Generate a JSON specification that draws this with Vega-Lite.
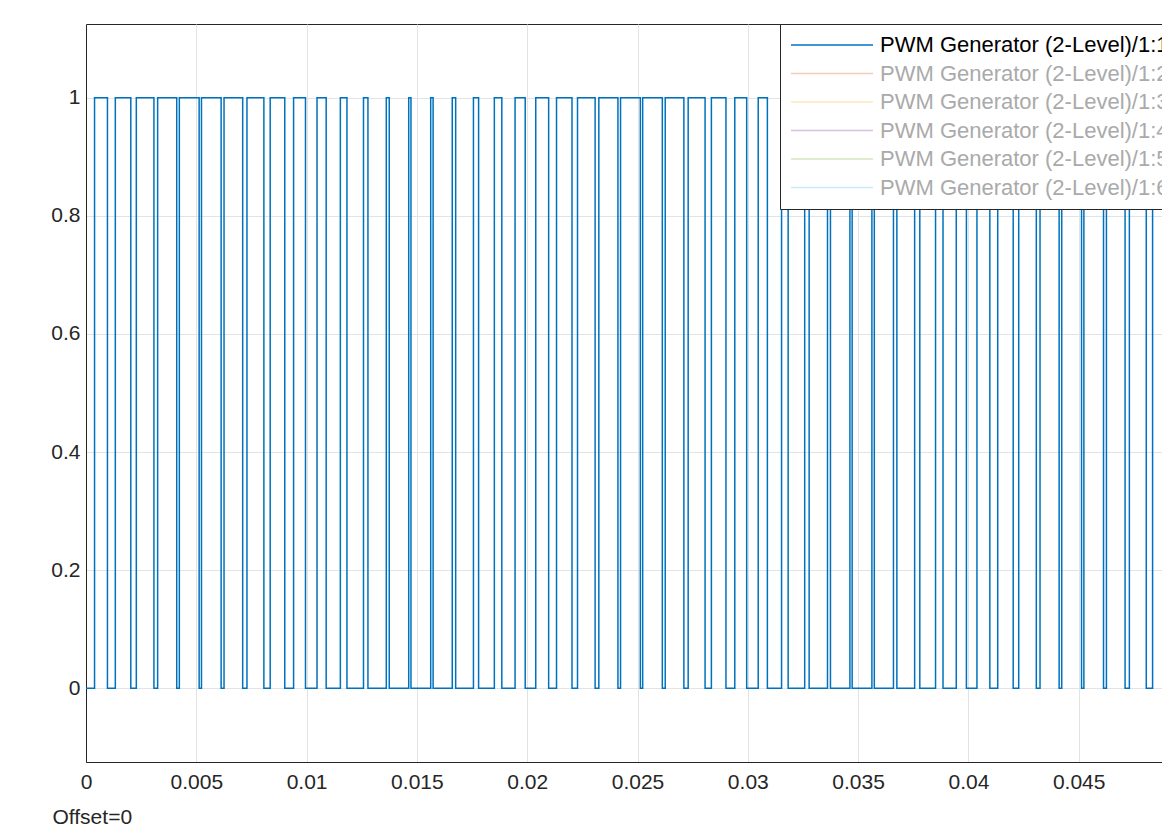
{
  "$schema": "https://vega.github.io/schema/vega-lite/v6.json",
  "autosize": {"type": "none"},
  "width": 1103,
  "height": 738,
  "padding": {"left": 86, "top": 24, "right": 10, "bottom": 62},
  "background": "white",
  "config": {
    "view": {"stroke": "#262626", "strokeWidth": 1},
    "font": "Liberation Sans",
    "axis": {"labelFont": "Liberation Sans", "labelFontSize": 21, "labelColor": "#262626", "gridColor": "#e3e3e3", "gridWidth": 1, "domainColor": "#262626", "ticks": false}
  },
  "data": {"values": [
    {"t": 0, "v": 0},
    {"t": 0.0003876, "v": 1}, {"t": 0.0009724, "v": 0},
    {"t": 0.0013293, "v": 1}, {"t": 0.0020307, "v": 0},
    {"t": 0.0022808, "v": 1}, {"t": 0.0030792, "v": 0},
    {"t": 0.0032470, "v": 1}, {"t": 0.0041130, "v": 0},
    {"t": 0.0042310, "v": 1}, {"t": 0.0051290, "v": 0},
    {"t": 0.0052346, "v": 1}, {"t": 0.0061254, "v": 0},
    {"t": 0.0062572, "v": 1}, {"t": 0.0071028, "v": 0},
    {"t": 0.0072968, "v": 1}, {"t": 0.0080632, "v": 0},
    {"t": 0.0083494, "v": 1}, {"t": 0.0090106, "v": 0},
    {"t": 0.0094099, "v": 1}, {"t": 0.0099501, "v": 0},
    {"t": 0.0104724, "v": 1}, {"t": 0.0108876, "v": 0},
    {"t": 0.0115307, "v": 1}, {"t": 0.0118293, "v": 0},
    {"t": 0.0125792, "v": 1}, {"t": 0.0127808, "v": 0},
    {"t": 0.0136130, "v": 1}, {"t": 0.0137470, "v": 0},
    {"t": 0.0146290, "v": 1}, {"t": 0.0147310, "v": 0},
    {"t": 0.0156254, "v": 1}, {"t": 0.0157346, "v": 0},
    {"t": 0.0166028, "v": 1}, {"t": 0.0167572, "v": 0},
    {"t": 0.0175632, "v": 1}, {"t": 0.0177968, "v": 0},
    {"t": 0.0185106, "v": 1}, {"t": 0.0188494, "v": 0},
    {"t": 0.0194501, "v": 1}, {"t": 0.0199099, "v": 0},
    {"t": 0.0203876, "v": 1}, {"t": 0.0209724, "v": 0},
    {"t": 0.0213293, "v": 1}, {"t": 0.0220307, "v": 0},
    {"t": 0.0222808, "v": 1}, {"t": 0.0230792, "v": 0},
    {"t": 0.0232470, "v": 1}, {"t": 0.0241130, "v": 0},
    {"t": 0.0242310, "v": 1}, {"t": 0.0251290, "v": 0},
    {"t": 0.0252346, "v": 1}, {"t": 0.0261254, "v": 0},
    {"t": 0.0262572, "v": 1}, {"t": 0.0271028, "v": 0},
    {"t": 0.0272968, "v": 1}, {"t": 0.0280632, "v": 0},
    {"t": 0.0283494, "v": 1}, {"t": 0.0290106, "v": 0},
    {"t": 0.0294099, "v": 1}, {"t": 0.0299501, "v": 0},
    {"t": 0.0304724, "v": 1}, {"t": 0.0308876, "v": 0},
    {"t": 0.0315307, "v": 1}, {"t": 0.0318293, "v": 0},
    {"t": 0.0325792, "v": 1}, {"t": 0.0327808, "v": 0},
    {"t": 0.0336130, "v": 1}, {"t": 0.0337470, "v": 0},
    {"t": 0.0346290, "v": 1}, {"t": 0.0347310, "v": 0},
    {"t": 0.0356254, "v": 1}, {"t": 0.0357346, "v": 0},
    {"t": 0.0366028, "v": 1}, {"t": 0.0367572, "v": 0},
    {"t": 0.0375632, "v": 1}, {"t": 0.0377968, "v": 0},
    {"t": 0.0385106, "v": 1}, {"t": 0.0388494, "v": 0},
    {"t": 0.0394501, "v": 1}, {"t": 0.0399099, "v": 0},
    {"t": 0.0403876, "v": 1}, {"t": 0.0409724, "v": 0},
    {"t": 0.0413293, "v": 1}, {"t": 0.0420307, "v": 0},
    {"t": 0.0422808, "v": 1}, {"t": 0.0430792, "v": 0},
    {"t": 0.0432470, "v": 1}, {"t": 0.0441130, "v": 0},
    {"t": 0.0442310, "v": 1}, {"t": 0.0451290, "v": 0},
    {"t": 0.0452346, "v": 1}, {"t": 0.0461254, "v": 0},
    {"t": 0.0462572, "v": 1}, {"t": 0.0471028, "v": 0},
    {"t": 0.0472968, "v": 1}, {"t": 0.0480632, "v": 0},
    {"t": 0.0483494, "v": 1}, {"t": 0.0490106, "v": 0},
    {"t": 0.0494099, "v": 1}, {"t": 0.0499501, "v": 0},
    {"t": 0.05, "v": 0}
  ]},
  "mark": {"type": "line", "interpolate": "step-after", "strokeWidth": 1.5, "clip": true},
  "encoding": {
    "x": {"field": "t", "type": "quantitative", "scale": {"domain": [0, 0.05], "nice": false, "zero": false},
      "axis": {"values": [0, 0.005, 0.01, 0.015, 0.02, 0.025, 0.03, 0.035, 0.04, 0.045, 0.05], "format": "~g", "labelPadding": 9, "title": "Offset=0", "titleFont": "Liberation Sans", "titleFontSize": 21, "titleFontWeight": "normal", "titleColor": "#262626", "titleAnchor": "start", "titleAlign": "left", "titleBaseline": "top", "titleX": -34, "titleY": 44, "labelFlush": false}},
    "y": {"field": "v", "type": "quantitative", "scale": {"domain": [-0.125, 1.125], "nice": false, "zero": false},
      "axis": {"values": [0, 0.2, 0.4, 0.6, 0.8, 1], "format": "~g", "title": null, "labelPadding": 6}},
    "color": {"datum": "PWM Generator (2-Level)/1:1", "type": "nominal",
      "scale": {"domain": ["PWM Generator (2-Level)/1:1", "PWM Generator (2-Level)/1:2", "PWM Generator (2-Level)/1:3", "PWM Generator (2-Level)/1:4", "PWM Generator (2-Level)/1:5", "PWM Generator (2-Level)/1:6"],
        "range": ["#0072BD", "#F4CBBA", "#FAE8BC", "#D8C1DD", "#D6E6C1", "#CAECFA"]},
      "legend": {"title": null, "orient": "none", "legendX": 694, "legendY": 0, "symbolType": "M-1.67,0H12", "symbolSize": 144, "symbolStrokeWidth": 1.5, "labelFont": "Liberation Sans", "labelFontSize": 22, "labelLimit": 1000, "labelOffset": 68, "strokeColor": "#262626", "fillColor": "white", "padding": 10, "rowPadding": 6.5,
        "encode": {"labels": {"update": {"fill": {"signal": "datum.value === 'PWM Generator (2-Level)/1:1' ? '#000000' : '#aaaaaa'"}}}}}}
  }
}
